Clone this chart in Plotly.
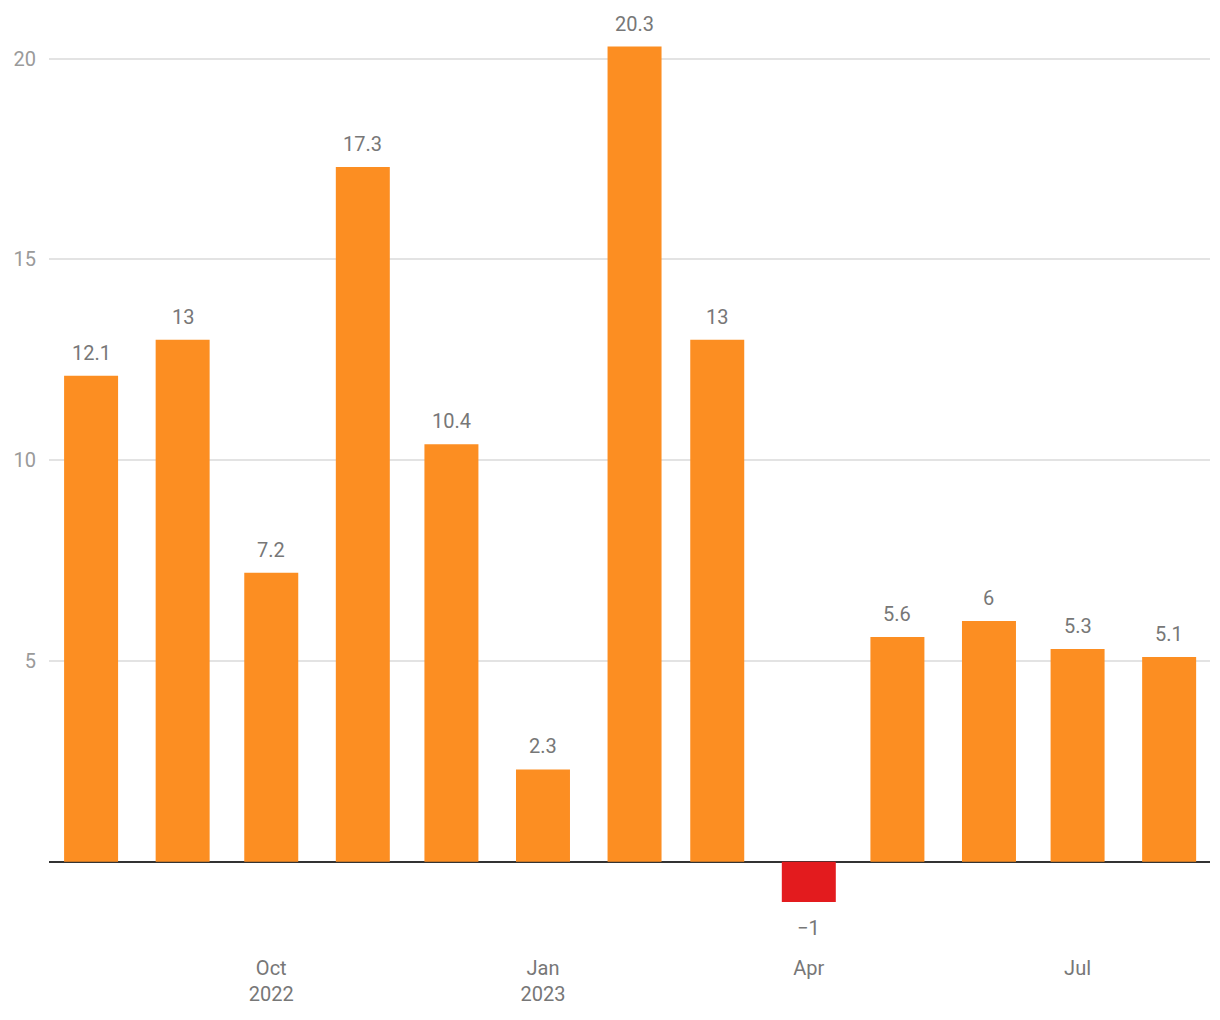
import plotly.graph_objects as go

months = ["2022-08-01", "2022-09-01", "2022-10-01", "2022-11-01", "2022-12-01",
          "2023-01-01", "2023-02-01", "2023-03-01", "2023-04-01", "2023-05-01",
          "2023-06-01", "2023-07-01", "2023-08-01"]
values = [12.1, 13, 7.2, 17.3, 10.4, 2.3, 20.3, 13, -1, 5.6, 6, 5.3, 5.1]

x_tick_vals = ["2022-10-01", "2023-01-01", "2023-04-01", "2023-07-01"]
x_tick_text = ["Oct<br>2022", "Jan<br>2023", "Apr", "Jul"]
y_tick_vals = [5, 10, 15, 20]
y_tick_text = ["5", "10", "15", "20"]

ORANGE = "#FC8E22"
RED = "#E31B1E"

colors = [ORANGE if v >= 0 else RED for v in values]


def fmt(v):
    s = f"{v:g}"
    return s.replace("-", "\u2212")


fig = go.Figure()
fig.add_trace(go.Bar(
    x=months, y=values,
    marker=dict(color=colors, line=dict(width=0)),
    width=18.28 * 86400000,
    hoverinfo="skip",
))

for m, v in zip(months, values):
    fig.add_annotation(
        x=m, y=v, text=fmt(v), showarrow=False,
        yanchor="bottom" if v >= 0 else "top",
        yshift=9 if v >= 0 else -12,
        font=dict(family="Roboto", size=20, color="#777777"),
    )

fig.update_layout(
    width=1212, height=1012,
    margin=dict(l=41, r=10, t=12, b=79),
    plot_bgcolor="white", paper_bgcolor="white",
    showlegend=False,
    font=dict(family="Roboto", size=20, color="#777777"),
    xaxis=dict(
        type="date",
        range=["2022-07-17 18:00", "2023-08-14 20:00"],
        tickvals=x_tick_vals, ticktext=x_tick_text,
        showgrid=False, zeroline=False, showline=False,
        ticks="outside", ticklen=9, tickcolor="rgba(0,0,0,0)",
        tickfont=dict(family="Roboto", size=20, color="#777777"),
        automargin=False,
    ),
    yaxis=dict(
        range=[-1.97, 20.96],
        tickvals=y_tick_vals, ticktext=y_tick_text,
        showgrid=True, gridcolor="#e3e3e3", gridwidth=1.5,
        zeroline=True, zerolinecolor="#333333", zerolinewidth=2,
        showline=False,
        ticks="outside", ticklen=8, tickcolor="rgba(0,0,0,0)",
        tickfont=dict(family="Roboto", size=20, color="#9a9a9a"),
        automargin=False,
    ),
)

fig.write_html("out.html")
